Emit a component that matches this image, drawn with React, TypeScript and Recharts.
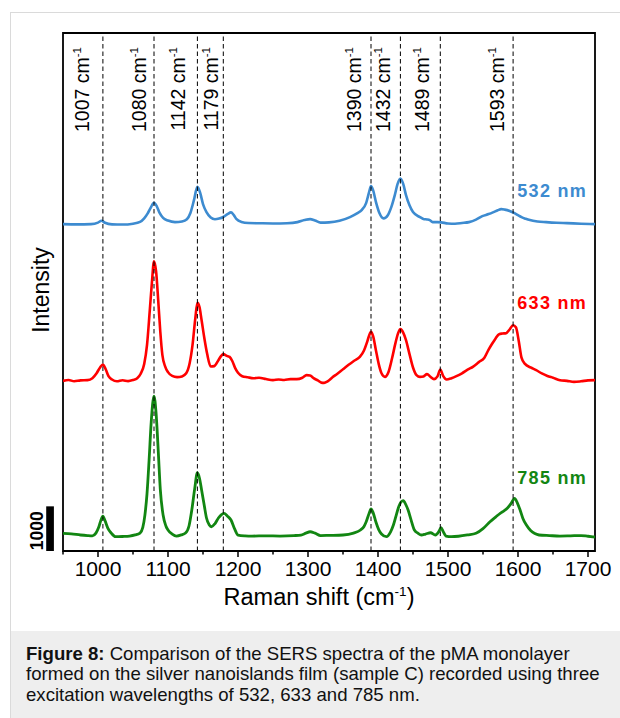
import { LineChart, Line, XAxis, YAxis, ReferenceLine, ReferenceArea, ReferenceDot } from 'recharts';

// SERS spectra of pMA, [Raman shift cm-1, counts above each trace's own baseline]
const spectrum532 = [
  [950, 0], [970, -5], [990, 0], [1000, 34], [1005, 74], [1010, 30], [1020, -5], [1035, -10],
  [1050, 10], [1060, 50], [1066, 130], [1071, 240], [1075, 358], [1080, 477], [1084, 400],
  [1088, 250], [1093, 140], [1100, 80], [1110, 45], [1120, 60], [1127, 110], [1132, 250],
  [1137, 530], [1142, 835], [1146, 700], [1150, 450], [1155, 270], [1161, 150], [1167, 110],
  [1173, 125], [1179, 160], [1185, 224], [1190, 262], [1194, 200], [1198, 110], [1205, 50],
  [1215, 25], [1230, 20], [1250, 15], [1270, 20], [1285, 45], [1295, 90], [1303, 112],
  [1310, 80], [1318, 34], [1330, 40], [1345, 75], [1360, 157], [1370, 240], [1377, 320],
  [1383, 470], [1387, 700], [1390, 851], [1393, 760], [1397, 500], [1402, 250], [1408, 128],
  [1414, 200], [1419, 380], [1424, 649], [1428, 900], [1432, 1023], [1436, 900], [1440, 649],
  [1445, 420], [1450, 269], [1460, 157], [1466, 110], [1470, 105], [1474, 90], [1478, 45],
  [1485, 45], [1490, 40], [1500, 15], [1510, 10], [1520, 25], [1530, 45], [1540, 100],
  [1549, 179], [1558, 225], [1565, 269], [1571, 310], [1576, 336], [1581, 325], [1588, 295],
  [1595, 246], [1600, 200], [1605, 157], [1611, 120], [1617, 90], [1628, 60], [1640, 45],
  [1655, 30], [1670, 22], [1690, 10], [1710, 0],
];

const spectrum633 = [
  [950, 0], [958, 20], [966, -10], [975, 10], [985, 16], [992, 60], [998, 172], [1003, 300],
  [1007, 367], [1011, 260], [1015, 105], [1020, 30], [1027, -10], [1035, 15], [1043, -5],
  [1050, 20], [1056, 60], [1061, 160], [1066, 380], [1070, 800], [1074, 1583], [1077, 2200],
  [1080, 2680], [1083, 2450], [1086, 1807], [1089, 1100], [1092, 575], [1096, 320], [1100, 195],
  [1106, 110], [1113, 83], [1120, 100], [1126, 170], [1131, 400], [1135, 799], [1139, 1400],
  [1142, 1746], [1145, 1650], [1148, 1359], [1152, 950], [1156, 600], [1161, 320], [1166, 330],
  [1172, 463], [1176, 560], [1179, 598], [1184, 560], [1188, 537], [1192, 440], [1196, 284],
  [1200, 180], [1206, 105], [1214, 80], [1222, 60], [1230, 70], [1240, 40], [1250, 16],
  [1258, 30], [1266, 20], [1275, 40], [1284, 38], [1292, 70], [1298, 128], [1303, 120],
  [1308, 60], [1314, 10], [1319, -40], [1323, -45], [1328, -10], [1335, 80], [1342, 160],
  [1350, 260], [1358, 360], [1366, 450], [1374, 537], [1380, 680], [1384, 850], [1387, 1000],
  [1390, 1097], [1393, 1000], [1397, 687], [1401, 380], [1405, 170], [1410, 90], [1415, 200],
  [1420, 500], [1425, 850], [1429, 1080], [1432, 1158], [1436, 1080], [1440, 911], [1445, 600],
  [1450, 300], [1455, 130], [1460, 90], [1465, 100], [1470, 150], [1475, 90], [1480, 38],
  [1485, 100], [1489, 255], [1493, 110], [1498, 31], [1505, 60], [1512, 105], [1520, 170],
  [1528, 250], [1536, 320], [1544, 420], [1552, 520], [1558, 700], [1563, 830], [1568, 950],
  [1573, 1046], [1578, 1060], [1583, 1068], [1588, 1150], [1593, 1247], [1597, 1200],
  [1601, 900], [1605, 520], [1610, 380], [1618, 300], [1626, 240], [1634, 166], [1642, 110],
  [1650, 70], [1660, 16], [1670, 0], [1680, -22], [1690, -10], [1700, 10], [1710, 16],
];

const spectrum785 = [
  [950, 16], [962, 5], [975, -22], [985, -35], [992, -40], [997, 20], [1001, 150], [1004, 300],
  [1007, 403], [1010, 300], [1014, 134], [1019, 20], [1025, -60], [1035, -55], [1045, -45],
  [1053, -20], [1060, 22], [1064, 150], [1067, 425], [1070, 900], [1073, 1657], [1076, 2500],
  [1080, 3090], [1083, 2700], [1086, 1881], [1089, 1000], [1093, 425], [1097, 180], [1100, 90],
  [1106, 0], [1112, -45], [1119, -20], [1125, 22], [1130, 180], [1134, 537], [1138, 1000],
  [1142, 1372], [1145, 1250], [1148, 985], [1152, 620], [1155, 358], [1159, 200], [1162, 163],
  [1167, 230], [1172, 358], [1176, 430], [1180, 463], [1185, 400], [1190, 313], [1195, 120],
  [1200, -22], [1210, -40], [1220, -45], [1240, -40], [1260, -45], [1280, -35], [1290, -22],
  [1297, 20], [1303, 51], [1310, 20], [1318, -34], [1330, -30], [1350, -22], [1365, 20],
  [1375, 90], [1380, 170], [1383, 269], [1387, 450], [1390, 560], [1393, 480], [1397, 269],
  [1401, 100], [1405, 0], [1412, -60], [1418, 50], [1422, 201], [1426, 420], [1430, 627],
  [1436, 746], [1440, 650], [1443, 537], [1447, 330], [1452, 90], [1457, 20], [1462, -22],
  [1468, 0], [1475, 29], [1482, -22], [1487, 60], [1490, 141], [1493, 60], [1497, -45],
  [1505, -60], [1515, -50], [1528, -20], [1540, 16], [1550, 120], [1560, 275], [1568, 380],
  [1575, 470], [1580, 520], [1585, 582], [1590, 680], [1595, 799], [1599, 700], [1603, 537],
  [1607, 350], [1612, 201], [1618, 80], [1624, 10], [1630, -22], [1645, -35], [1660, -45],
  [1675, -40], [1690, -34], [1700, -50], [1710, -67],
];

// vertical offsets used to stack the three traces
const traceOffsets = [7320, 3810, 380];
const traceNames = ['532 nm', '633 nm', '785 nm'];

const peakShifts = [1007, 1080, 1142, 1179, 1390, 1432, 1489, 1593];
const xTicks = [950, 1000, 1050, 1100, 1150, 1200, 1250, 1300, 1350, 1400, 1450, 1500, 1550, 1600, 1650, 1700];
const scaleBarCounts = 1000;

const FONT = '"Liberation Sans", Arial, Helvetica, sans-serif';
const X_DOMAIN: [number, number] = [950, 1710];
const Y_DOMAIN: [number, number] = [0, 11600];

const traceStyles = [
  { color: '#3d8bd0', width: 2.6, labelY: 7925 },
  { color: '#ff0000', width: 2.6, labelY: 5418 },
  { color: '#128612', width: 2.8, labelY: 1500 },
];

// distance between each dashed line and the baseline of its rotated label
const peakLabelGap = [14, 8, 12.5, 5, 10, 10, 11, 9];

const traces = traceNames.map((name, i) => {
  const src = [spectrum532, spectrum633, spectrum785][i];
  return {
    name,
    ...traceStyles[i],
    data: src.map(([x, c]) => ({ x, y: c + traceOffsets[i] })),
  };
});

const XTick = (props: any) => {
  const { x, y, payload } = props;
  const major = payload.value % 100 === 0;
  return (
    <g>
      <line x1={x} x2={x} y1={y} y2={y + (major ? 6 : 3.5)} stroke="#000" strokeWidth={1.5} />
      {major && (
        <text x={x} y={y + 25} textAnchor="middle" fontSize={21} fontFamily={FONT} fill="#000">
          {payload.value}
        </text>
      )}
    </g>
  );
};

const peakLabel = (shift: number, gap: number) => (props: any) => {
  const { viewBox } = props;
  const x = viewBox.x - gap;
  const y = viewBox.y + 14;
  return (
    <text
      x={x}
      y={y}
      transform={`rotate(-90 ${x} ${y})`}
      textAnchor="end"
      fontSize={19.5}
      fontFamily={FONT}
      fill="#000"
    >
      {shift} cm<tspan dy={-8} fontSize={11.5}>-1</tspan>
    </text>
  );
};

const traceLabel = (name: string, color: string) => (props: any) => {
  const { viewBox } = props;
  return (
    <text
      x={viewBox.x}
      y={viewBox.y}
      fontSize={18}
      fontWeight="bold"
      letterSpacing={1.3}
      fontFamily={FONT}
      fill={color}
    >
      {name}
    </text>
  );
};

const xTitle = (props: any) => {
  const { viewBox } = props;
  const cx = viewBox.x + viewBox.width / 2 - 10;
  return (
    <text x={cx} y={viewBox.y + 54} textAnchor="middle" fontSize={23.5} fontFamily={FONT} fill="#000">
      Raman shift (cm<tspan dy={-9} fontSize={13.5}>-1</tspan>
      <tspan dy={9}>)</tspan>
    </text>
  );
};

// plot frame; also carries the rotated "Intensity" title on its left side
const frameLabel = (props: any) => {
  const { viewBox } = props;
  const x = viewBox.x - 14.5;
  const y = viewBox.y + viewBox.height / 2 - 2;
  return (
    <text
      x={x}
      y={y}
      transform={`rotate(-90 ${x} ${y})`}
      textAnchor="middle"
      fontSize={23}
      fontFamily={FONT}
      fill="#000"
    >
      Intensity
    </text>
  );
};

const scaleBarLabel = (props: any) => {
  const { viewBox } = props;
  const x = viewBox.x - 3.5;
  const y = viewBox.y + viewBox.height / 2 + 2;
  return (
    <text
      x={x}
      y={y}
      transform={`rotate(-90 ${x} ${y})`}
      textAnchor="middle"
      fontSize={17.5}
      fontWeight="bold"
      fontFamily={FONT}
      fill="#000"
    >
      {scaleBarCounts}
    </text>
  );
};

export default function App() {
  return (
    <div
      style={{
        position: 'absolute',
        left: 0,
        top: 0,
        width: 620,
        height: 718,
        overflow: 'hidden',
        background: '#fff',
        fontFamily: FONT,
      }}
    >
      <div
        style={{
          position: 'absolute',
          left: 10,
          top: 12,
          width: 700,
          height: 760,
          border: '1px solid #dadada',
        }}
      />
      <div style={{ position: 'absolute', left: 0, top: 0 }}>
        <LineChart width={620} height={631} margin={{ top: 33, right: 25, bottom: 40, left: 63 }}>
          <XAxis
            dataKey="x"
            type="number"
            domain={X_DOMAIN}
            allowDataOverflow
            ticks={xTicks}
            interval={0}
            tick={XTick}
            tickSize={0}
            tickMargin={0}
            tickLine={false}
            axisLine={false}
            height={40}
            label={xTitle}
          />
          <YAxis type="number" domain={Y_DOMAIN} allowDataOverflow hide />
          {traces.map((t) => (
            <Line
              key={t.name}
              data={t.data}
              dataKey="y"
              type="monotone"
              stroke={t.color}
              strokeWidth={t.width}
              dot={false}
              activeDot={false}
              isAnimationActive={false}
            />
          ))}
          {peakShifts.map((p, i) => (
            <ReferenceLine
              key={p}
              x={p}
              stroke="#000"
              strokeWidth={1}
              strokeDasharray="4.5 3"
              label={peakLabel(p, peakLabelGap[i])}
            />
          ))}
          {traces.map((t) => (
            <ReferenceDot
              key={`lbl-${t.name}`}
              x={1599}
              y={t.labelY}
              r={0}
              fill="none"
              stroke="none"
              label={traceLabel(t.name, t.color)}
            />
          ))}
          <ReferenceArea
            x1={926}
            x2={937}
            y1={0}
            y2={scaleBarCounts}
            fill="#000"
            fillOpacity={1}
            ifOverflow="visible"
            label={scaleBarLabel}
          />
          <ReferenceArea
            x1={X_DOMAIN[0]}
            x2={X_DOMAIN[1]}
            y1={Y_DOMAIN[0]}
            y2={Y_DOMAIN[1]}
            fill="none"
            stroke="#000"
            strokeWidth={1.8}
            ifOverflow="visible"
            label={frameLabel}
          />
        </LineChart>
      </div>
      <div
        style={{
          position: 'absolute',
          left: 11,
          top: 631,
          width: 640,
          height: 100,
          background: '#eeeeee',
          boxSizing: 'border-box',
          paddingLeft: 15,
          paddingTop: 12.5,
          fontSize: 18.6,
          lineHeight: '20.5px',
          color: '#111',
          whiteSpace: 'nowrap',
        }}
      >
        <b>Figure 8:</b> Comparison of the SERS spectra of the pMA monolayer
        <br />
        formed on the silver nanoislands film (sample C) recorded using three
        <br />
        excitation wavelengths of 532, 633 and 785 nm.
      </div>
    </div>
  );
}
